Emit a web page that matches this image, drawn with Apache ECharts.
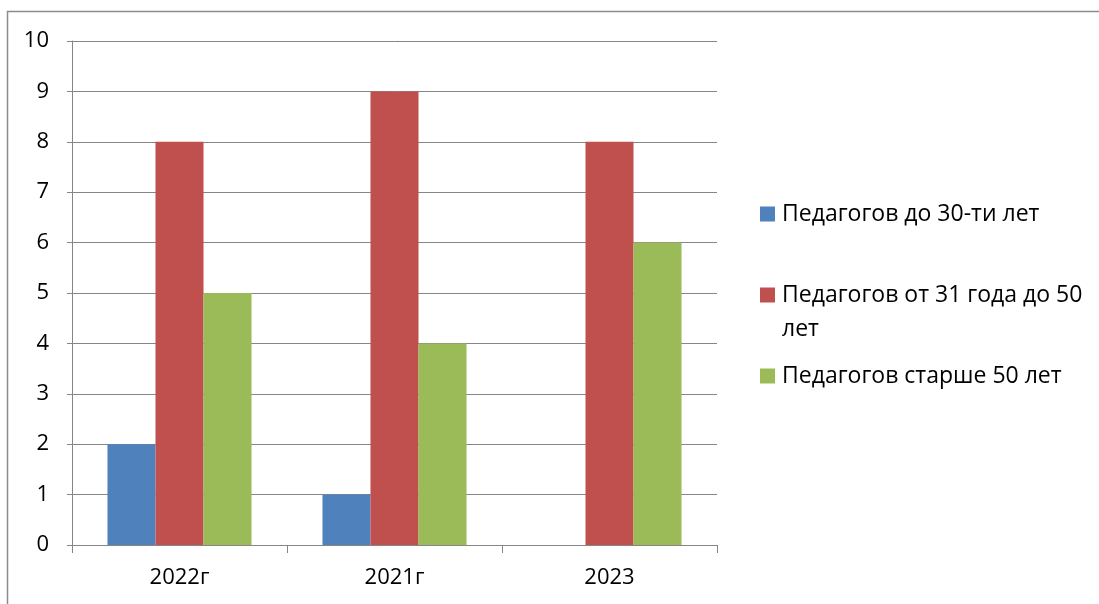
<!DOCTYPE html>
<html><head><meta charset="utf-8">
<script src="https://cdn.jsdelivr.net/npm/echarts@6/dist/echarts.min.js"></script>
<style>html,body{margin:0;padding:0;background:#fff}#c{width:1099px;height:604px}</style>
</head><body><div id="c"></div>
<script>
const categories = ['2022г', '2021г', '2023'];
const seriesNames = ['Педагогов до 30-ти лет', 'Педагогов от 31 года до 50 лет', 'Педагогов старше 50 лет'];
const under30 = [2, 1, 0];
const from31to50 = [8, 9, 8];
const over50 = [5, 4, 6];
const yTicks = [0, 10, 1];
const colors = ['#4F81BD', '#C0504D', '#9BBB59'];
const font = 'Open Sans';
const chart = echarts.init(document.getElementById('c'));
const legendTops = [202, 283, 364];
const values = [under30, from31to50, over50];
chart.setOption({
  animation: false,
  grid: {left: 72, top: 41, right: 382, bottom: 59},
  xAxis: {
    type: 'category', data: categories,
    axisLine: {lineStyle: {color: '#868686', width: 1}},
    axisTick: {show: true, length: 8, lineStyle: {color: '#868686'}},
    axisLabel: {fontFamily: font, fontSize: 22, color: '#000', margin: 22}
  },
  yAxis: {
    type: 'value', min: yTicks[0], max: yTicks[1], interval: yTicks[2],
    axisLine: {show: true, lineStyle: {color: '#868686'}},
    axisTick: {show: true, length: 5, lineStyle: {color: '#868686'}},
    splitLine: {lineStyle: {color: '#868686', width: 1}},
    axisLabel: {fontFamily: font, fontSize: 22, color: '#000', margin: 23}
  },
  legend: seriesNames.map((n, i) => ({
    data: [n], orient: 'vertical', left: 760, top: legendTops[i], padding: 0,
    itemWidth: 15, itemHeight: 15, icon: 'rect',
    formatter: i === 1 ? 'Педагогов от 31 года до 50' : '{name}',
    textStyle: {fontFamily: font, fontSize: 23, lineHeight: 24, color: '#000', padding: [0, 0, 0, 2]}
  })),
  graphic: [
    {type: 'rect', shape: {x: 7.5, y: 11.5, width: 1200, height: 700}, style: {fill: 'none', stroke: '#8c8c8c', lineWidth: 1.5}, silent: true},
    {type: 'text', x: 782, y: 329, style: {text: 'лет', fontFamily: font, fontSize: 23, fill: '#000', verticalAlign: 'middle'}}
  ],
  series: seriesNames.map((n, i) => ({
    name: n, type: 'bar', data: values[i], barGap: '0%', barCategoryGap: '33%',
    itemStyle: {color: colors[i]}
  }))
});
</script></body></html>
